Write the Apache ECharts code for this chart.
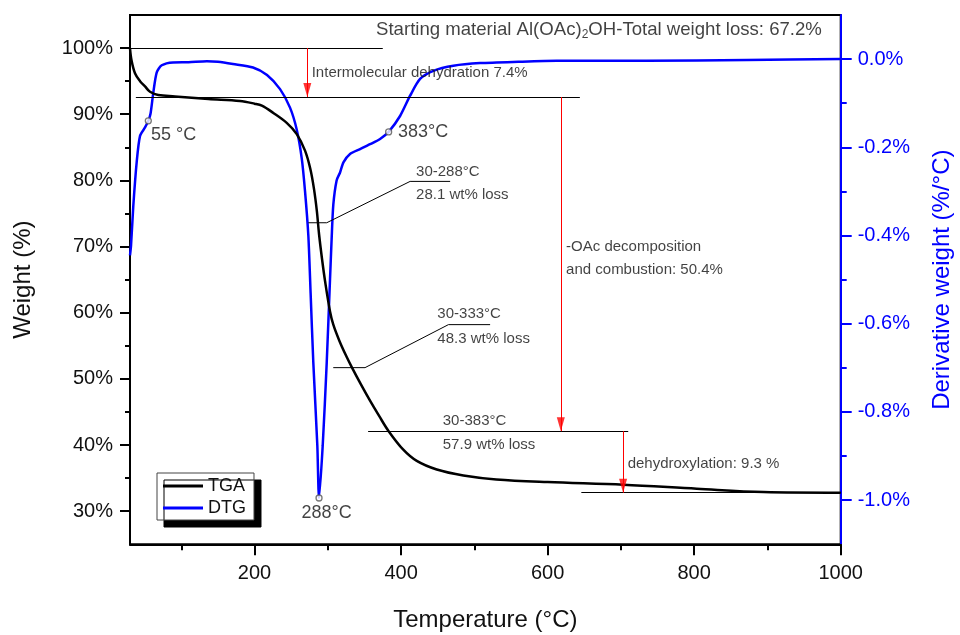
<!DOCTYPE html>
<html>
<head>
<meta charset="utf-8">
<script src="https://cdn.jsdelivr.net/npm/echarts@6/dist/echarts.min.js"></script>
<style>
  html, body { margin: 0; padding: 0; background: #fff; }
  #chart { width: 960px; height: 635px; }
</style>
</head>
<body>
<div id="chart"></div>
<script>
// ---- TGA: weight remaining (%) vs temperature (°C)
const tgaTemp   = [30, 32, 36.8, 43.7, 50.5, 57.3, 68.6, 91.4, 137, 180, 200, 210, 225.6, 243.9, 257.6, 268.9, 276, 281, 285, 288, 292, 296.2, 303, 307.5, 316, 325.8, 333, 345, 357.6, 370, 383, 403, 421.4, 448.7, 485, 530, 600, 703.5, 803.6, 894.6, 1000];
const tgaWeight = [100, 98.2, 96.2, 95.0, 94.2, 93.4, 92.9, 92.7, 92.3, 92.0, 91.6, 91.3, 90.2, 88.7, 87.0, 84.5, 81.8, 78.8, 75.4, 71.9, 68.2, 64.8, 60.2, 58.2, 55.7, 53.3, 51.7, 49.2, 46.7, 44.4, 42.1, 39.3, 37.6, 36.3, 35.4, 34.8, 34.4, 34.0, 33.4, 32.9, 32.8];

// ---- DTG: derivative weight (%/°C) vs temperature (°C)
const dtgTemp = [30, 31.4, 34.5, 39.1, 43.7, 50.5, 55, 58, 61.8, 66.5, 73.3, 88.7, 110, 135, 150, 170.6, 197.9, 217, 234.8, 248.4, 257.6, 264.4, 268.9, 273.4, 276.5, 280.2, 285.7, 288, 293, 298.5, 303, 305.2, 307.5, 312, 316.7, 321.3, 330.3, 344, 357.6, 371.3, 383, 398.6, 412.3, 425.9, 444, 471.4, 507.8, 560, 612.5, 735, 872, 1000];
const dtgRate = [-0.445, -0.423, -0.333, -0.234, -0.174, -0.155, -0.14, -0.124, -0.076, -0.030, -0.014, -0.0075, -0.007, -0.005, -0.006, -0.011, -0.019, -0.036, -0.068, -0.11, -0.16, -0.225, -0.3, -0.4, -0.53, -0.688, -0.877, -0.995, -0.877, -0.688, -0.499, -0.408, -0.33, -0.275, -0.257, -0.234, -0.215, -0.204, -0.193, -0.181, -0.165, -0.129, -0.083, -0.045, -0.0265, -0.015, -0.009, -0.006, -0.004, -0.004, -0.002, 0];

// ---- Axis ticks
const tempTicks   = [200, 400, 600, 800, 1000];
const tempMinor   = [100, 300, 500, 700, 900];
const weightTicks = [30, 40, 50, 60, 70, 80, 90, 100];
const weightMinor = [35, 45, 55, 65, 75, 85, 95];
const rateTicks   = [-1.0, -0.8, -0.6, -0.4, -0.2, 0.0];
const rateMinor   = [-0.9, -0.7, -0.5, -0.3, -0.1];

// ---- DTG peaks marked with open circles
const peakTemps  = [55, 288, 383];
const peakLabels = ['55 °C', '288°C', '383°C'];
const peakLabelTemp   = [58.7, 298.4, 395.9];
const peakLabelWeight = [86.9, 29.8, 87.3];
const peakLabelAlign  = ['left', 'center', 'left'];

// ---- Mass-loss stages: weight levels, guide lines and arrows
const stageWeights   = [100, 92.6, 42.1, 32.8];
const stageLineStart = [30, 38, 355, 646];
const stageLineEnd   = [375, 644, 710, 1000];
const stageArrowTemp = [272, 618, 703];

// ---- Leader lines to the cumulative-loss notes
const leader288Temp   = [273.4, 298.5, 412.3, 467];
const leader288Weight = [73.6, 73.6, 79.85, 79.85];
const leader333Temp   = [307.4, 350.8, 464.6, 521.5];
const leader333Weight = [51.7, 51.7, 58.2, 58.2];

// ---- Text notes (temperature, weight of their left anchor)
const noteTexts = [
  'Intermolecular dehydration 7.4%',
  '-OAc decomposition',
  'and combustion: 50.4%',
  '30-288°C', '28.1 wt% loss',
  '30-333°C', '48.3 wt% loss',
  '30-383°C', '57.9 wt% loss',
  'dehydroxylation: 9.3 %'
];
const noteTemp   = [278, 625.2, 625.2, 420.4, 420.4, 449.5, 449.5, 456.9, 456.9, 709.2];
const noteWeight = [96.27, 70.0, 66.5, 81.36, 77.84, 59.82, 56.1, 43.6, 40.1, 37.1];

const titleNoteTemp = 365.8;
const titleNoteWeight = 102.76;

const FONT = "'Liberation Sans', Arial, sans-serif";
const BLUE = '#0000ff';
const RED = '#ff0000';

const zip = (a, b) => a.map((v, i) => [v, b[i]]);

const peakPoints = peakTemps.map(t => [t, dtgRate[dtgTemp.indexOf(t)]]);

const refLines = stageWeights.map((w, i) => [
  { coord: [stageLineStart[i], w] },
  { coord: [stageLineEnd[i], w] }
]);
const arrowShafts = stageArrowTemp.map((t, i) => [
  { coord: [t, stageWeights[i]], lineStyle: { color: RED, width: 1 } },
  { coord: [t, stageWeights[i + 1]], lineStyle: { color: RED, width: 1 } }
]);
const arrowHeads = stageArrowTemp.map((t, i) => [t, stageWeights[i + 1]]);

const notePoints = noteTexts.map((txt, i) => ({
  value: [noteTemp[i], noteWeight[i]],
  label: { formatter: txt }
}));
notePoints.push({
  value: [titleNoteTemp, titleNoteWeight],
  label: {
    formatter: '{a|Starting material Al(OAc)}{s|2}{a|OH-Total weight loss: 67.2%}',
    rich: {
      a: { fontSize: 18.6, color: '#111', fontFamily: FONT },
      s: { fontSize: 12, color: '#111', fontFamily: FONT, padding: [9, 0, 0, 0] }
    }
  }
});
peakLabels.forEach((txt, i) => notePoints.push({
  value: [peakLabelTemp[i], peakLabelWeight[i]],
  label: { formatter: txt, fontSize: 18, align: peakLabelAlign[i] }
}));

// An axis that only draws ticks at the given values (no line, no labels)
function tickAxis(min, max, position, values, length, color) {
  return {
    type: 'value', min: min, max: max, position: position, offset: 0,
    axisLine: { show: false, onZero: false },
    axisTick: { show: true, customValues: values, length: length, lineStyle: { width: 2, color: color } },
    axisLabel: { show: false },
    splitLine: { show: false }
  };
}

const chart = echarts.init(document.getElementById('chart'), null, { renderer: 'canvas' });

chart.setOption({
  animation: false,
  textStyle: { fontFamily: FONT },
  grid: {
    left: 130, right: 119.3, top: 15, bottom: 90.7,
    outerBoundsMode: 'none', containLabel: false,
    show: true, borderColor: '#000', borderWidth: 2, backgroundColor: 'transparent'
  },
  legend: {
    data: ['TGA', 'DTG'],
    orient: 'vertical',
    left: 157, top: 473,
    icon: 'rect', itemWidth: 40, itemHeight: 3, itemGap: 4, itemTextGap: 6,
    padding: [4, 8, 3, 6],
    backgroundColor: '#fff', borderColor: '#444', borderWidth: 1,
    shadowColor: '#000', shadowBlur: 0, shadowOffsetX: 7, shadowOffsetY: 7,
    textStyle: { fontSize: 18, color: '#111', fontFamily: FONT }
  },
  xAxis: [
    {
      type: 'value', min: 30, max: 1000, position: 'bottom', offset: 0,
      name: 'Temperature (°C)', nameLocation: 'middle', nameGap: 64,
      nameTextStyle: { fontSize: 24, color: '#111', fontFamily: FONT },
      axisLine: { onZero: false, lineStyle: { color: '#000', width: 2 } },
      axisTick: { show: false },
      axisLabel: { customValues: tempTicks, margin: 19, fontSize: 20, color: '#111', fontFamily: FONT,
                   formatter: v => String(v) },
      splitLine: { show: false }
    },
    tickAxis(30, 1000, 'bottom', tempMinor, 6, '#000'),
    tickAxis(30, 1000, 'bottom', tempTicks.slice(0, -1), 11, '#000'),
    tickAxis(30, 1000, 'bottom', tempTicks.slice(-1), 11, '#000')
  ],
  yAxis: [
    {
      type: 'value', min: 25, max: 105, position: 'left', offset: 0,
      name: 'Weight (%)', nameLocation: 'middle', nameRotate: 90, nameGap: 95,
      nameTextStyle: { fontSize: 24, color: '#111', fontFamily: FONT },
      axisLine: { show: true, onZero: false, lineStyle: { color: '#000', width: 2 } },
      axisTick: { show: false },
      axisLabel: { customValues: weightTicks, margin: 17, fontSize: 20, color: '#111', fontFamily: FONT,
                   formatter: v => v + '%' },
      splitLine: { show: false }
    },
    tickAxis(25, 105, 'left', weightTicks, 10, '#000'),
    tickAxis(25, 105, 'left', weightMinor, 5, '#000'),
    {
      type: 'value', min: -1.1, max: 0.1, position: 'right', offset: 0,
      name: 'Derivative weight (%/°C)', nameLocation: 'middle', nameRotate: 90, nameGap: 90,
      nameTextStyle: { fontSize: 24, color: BLUE, fontFamily: FONT },
      axisLine: { show: true, onZero: false, lineStyle: { color: BLUE, width: 2 } },
      axisTick: { show: false },
      axisLabel: { customValues: rateTicks, margin: 17, fontSize: 20, color: BLUE, fontFamily: FONT,
                   formatter: v => v.toFixed(1) + '%' },
      splitLine: { show: false }
    },
    tickAxis(-1.1, 0.1, 'right', rateTicks, 11, BLUE),
    tickAxis(-1.1, 0.1, 'right', rateMinor, 6, BLUE)
  ],
  series: [
    {
      name: 'TGA', type: 'line', xAxisIndex: 0, yAxisIndex: 0,
      data: zip(tgaTemp, tgaWeight),
      showSymbol: false, smooth: 0.35,
      lineStyle: { color: '#000', width: 2.5 }, itemStyle: { color: '#000' },
      z: 3,
      markLine: {
        silent: true, animation: false,
        symbol: 'none',
        label: { show: false },
        lineStyle: { color: '#000', width: 1, type: 'solid' },
        emphasis: { disabled: true },
        data: refLines.concat(arrowShafts)
      }
    },
    {
      name: 'DTG', type: 'line', xAxisIndex: 0, yAxisIndex: 3,
      data: zip(dtgTemp, dtgRate),
      showSymbol: false, smooth: 0.25,
      lineStyle: { color: BLUE, width: 2.5 }, itemStyle: { color: BLUE },
      z: 2
    },
    {
      name: 'leader288', type: 'line', xAxisIndex: 0, yAxisIndex: 0,
      data: zip(leader288Temp, leader288Weight),
      showSymbol: false, silent: true,
      lineStyle: { color: '#000', width: 1 }, z: 4
    },
    {
      name: 'leader333', type: 'line', xAxisIndex: 0, yAxisIndex: 0,
      data: zip(leader333Temp, leader333Weight),
      showSymbol: false, silent: true,
      lineStyle: { color: '#000', width: 1 }, z: 4
    },
    {
      name: 'arrowHeads', type: 'scatter', xAxisIndex: 0, yAxisIndex: 0,
      data: arrowHeads, symbol: 'triangle', symbolSize: [8, 14], symbolRotate: 180,
      symbolOffset: [0, -7], silent: true,
      itemStyle: { color: RED }, z: 5
    },
    {
      name: 'peaks', type: 'scatter', xAxisIndex: 0, yAxisIndex: 3,
      data: peakPoints, symbol: 'circle', symbolSize: 6, silent: true,
      itemStyle: { color: '#fff', borderColor: '#555', borderWidth: 1.3 },
      z: 5
    },
    {
      name: 'notes', type: 'scatter', xAxisIndex: 0, yAxisIndex: 0,
      data: notePoints, symbolSize: 0, silent: true,
      label: {
        show: true, position: 'inside', align: 'left', verticalAlign: 'middle',
        fontSize: 15, color: '#111', fontFamily: FONT
      },
      z: 6
    }
  ]
});
</script>
</body>
</html>
